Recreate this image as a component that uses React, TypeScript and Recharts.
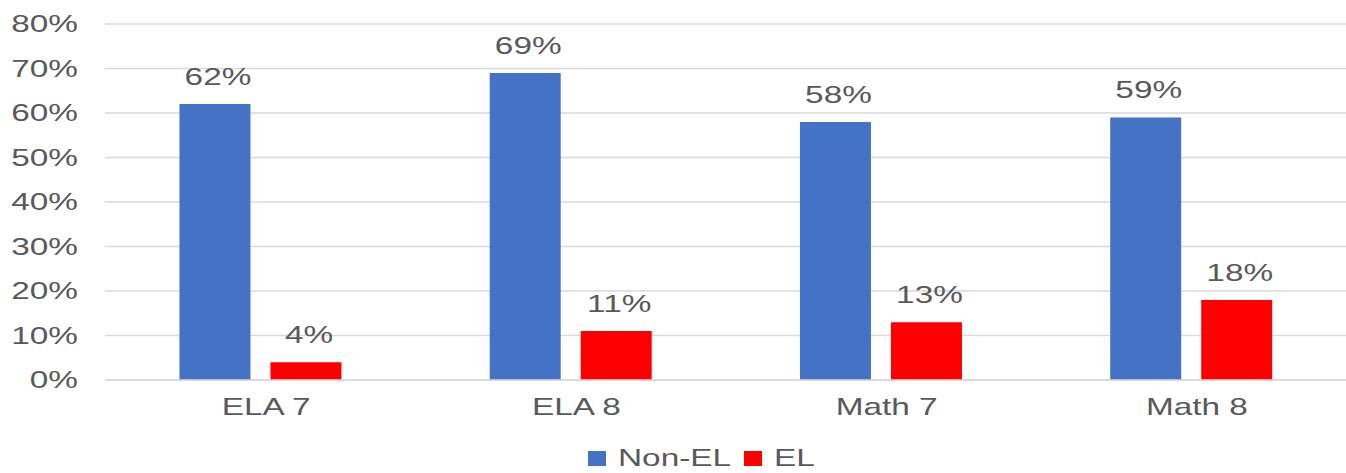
import { BarChart, Bar, XAxis, YAxis, CartesianGrid, Legend, LabelList } from "recharts";

const CATEGORIES = ["ELA 7", "ELA 8", "Math 7", "Math 8"];
const NON_EL = [62, 69, 58, 59];
const EL = [4, 11, 13, 18];
const Y_TICKS = [0, 10, 20, 30, 40, 50, 60, 70, 80];
const SERIES = [
  { label: "Non-EL", color: "#4472C4", width: 117 },
  { label: "EL", color: "#FF0000", width: 37 },
];

const BLUE = "#4472C4";
const RED = "#FF0000";
const TEXT = "#595959";
const FONT = "'Liberation Sans', Arial, sans-serif";
const STRETCH = 1.45;

const data = CATEGORIES.map((name, i) => ({ name, nonEl: NON_EL[i], el: EL[i] }));

function WideText({ x, y, anchor, children }: any) {
  return (
    <text
      transform={`translate(${x},${y}) scale(${STRETCH},1)`}
      textAnchor={anchor}
      fill={TEXT}
      fontSize={23}
      fontFamily={FONT}
    >
      {children}
    </text>
  );
}

function YTick({ x, y, payload }: any) {
  return <WideText x={x} y={y + 8} anchor="end">{`${payload.value}%`}</WideText>;
}

function XTick({ x, y, payload }: any) {
  return <WideText x={x + 6} y={y + 35} anchor="middle">{payload.value}</WideText>;
}

function BarLabel({ x, y, width, value }: any) {
  return <WideText x={x + width / 2 + 3} y={y - 19} anchor="middle">{`${value}%`}</WideText>;
}

function LegendBox() {
  return (
    <div style={{ height: 43, display: "flex", alignItems: "center", paddingTop: 14, paddingLeft: 588, boxSizing: "border-box", fontFamily: FONT }}>
      {SERIES.map((it) => (
        <div key={it.label} style={{ display: "flex", alignItems: "center", marginRight: 9 }}>
          <span style={{ width: 18, height: 15, background: it.color, display: "inline-block", marginRight: 12 }} />
          <span style={{ width: it.width, fontSize: 23, lineHeight: "23px", color: TEXT, display: "inline-block", whiteSpace: "nowrap", transform: `scaleX(${STRETCH})`, transformOrigin: "left center" }}>
            {it.label}
          </span>
        </div>
      ))}
    </div>
  );
}

export default function App() {
  return (
    <div style={{ position: "absolute", left: 0, top: 0, width: 1346, height: 473, background: "#fff" }}>
      <BarChart
        width={1346}
        height={473}
        data={data}
        margin={{ top: 24, right: 0, left: 0, bottom: 0 }}
        barCategoryGap="24%"
        barGap={20}
      >
        <CartesianGrid vertical={false} stroke="#d9d9d9" strokeWidth={1.5} />
        <XAxis
          dataKey="name"
          axisLine={{ stroke: "#d9d9d9", strokeWidth: 1.5 }}
          tickLine={false}
          tickSize={0}
          tickMargin={0}
          height={50}
          tick={<XTick />}
        />
        <YAxis
          domain={[0, 80]}
          ticks={Y_TICKS}
          axisLine={false}
          tickLine={false}
          tickSize={0}
          tickMargin={27}
          width={105}
          tick={<YTick />}
        />
        <Legend verticalAlign="bottom" height={43} content={() => <LegendBox />} />
        <Bar dataKey="nonEl" name="Non-EL" fill={BLUE} isAnimationActive={false}>
          <LabelList dataKey="nonEl" content={<BarLabel />} />
        </Bar>
        <Bar dataKey="el" name="EL" fill={RED} isAnimationActive={false}>
          <LabelList dataKey="el" content={<BarLabel />} />
        </Bar>
      </BarChart>
    </div>
  );
}
